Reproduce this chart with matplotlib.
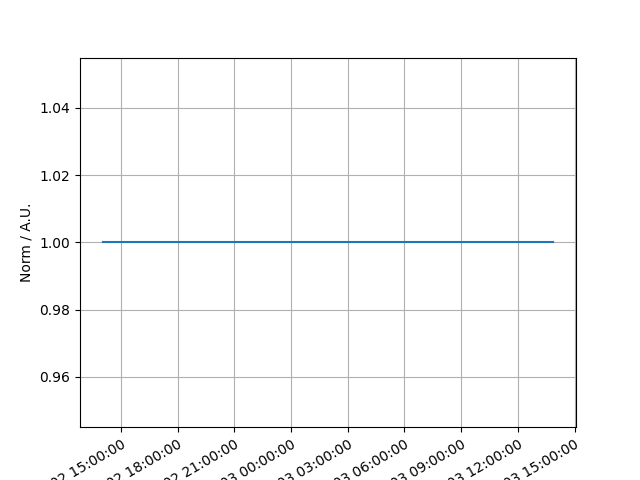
import numpy as np
import pandas as pd
import matplotlib
matplotlib.use("Agg")
import matplotlib.pyplot as plt
import matplotlib.dates as mdates

times = pd.to_datetime(["2021-06-02 14:02:00", "2021-06-02 20:00:00",
                        "2021-06-03 02:00:00", "2021-06-03 08:00:00",
                        "2021-06-03 13:53:00"])
norm = [1.0, 1.0, 1.0, 1.0, 1.0]

fig, ax = plt.subplots(figsize=(6.4, 4.8), dpi=100)
ax.plot(times, norm)
ax.set_ylabel("Norm / A.U.")
ax.xaxis.set_major_locator(mdates.HourLocator(byhour=range(0, 24, 3)))
ax.xaxis.set_major_formatter(mdates.DateFormatter("%Y-%m-%d %H:%M:%S"))
plt.setp(ax.get_xticklabels(), rotation=30, ha="right", rotation_mode="anchor")
ax.grid()
fig.savefig("out.png")
